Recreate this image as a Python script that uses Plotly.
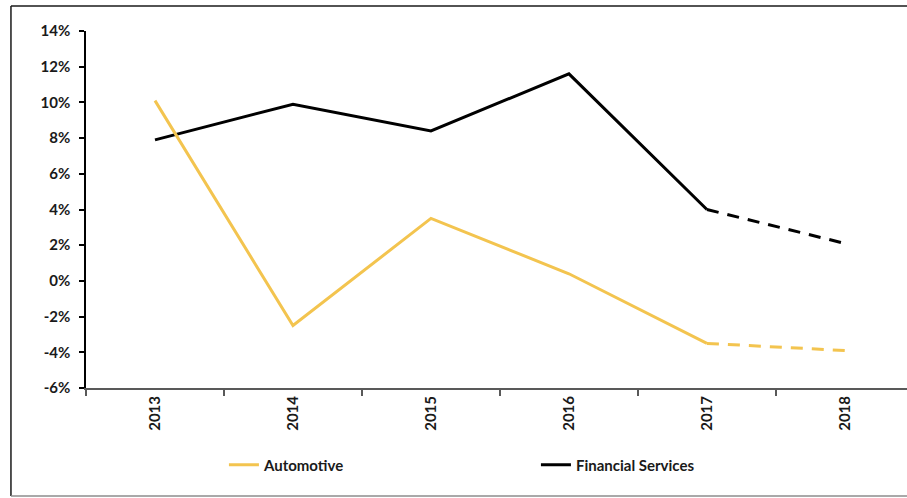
import plotly.graph_objects as go

# Annual growth rates (%) by sector; 2018 is a forecast
years = ["2013", "2014", "2015", "2016", "2017", "2018"]
automotive = [10.1, -2.5, 3.5, 0.4, -3.5, -3.9]
financial_services = [7.9, 9.9, 8.4, 11.6, 4.0, 2.1]

y_tick_values = [-6, -4, -2, 0, 2, 4, 6, 8, 10, 12, 14]
y_tick_labels = [f"{v}%" for v in y_tick_values]

AUTO_COLOR = "#F3C44F"
FIN_COLOR = "#000000"
FONT = dict(family="Lato, Open Sans, sans-serif", size=15, color="#1a1a1a", weight="bold")

n_actual = 5  # last actual year index + 1; forecast segment starts at the last actual point

fig = go.Figure()

# Solid lines for actual values
fig.add_trace(go.Scatter(
    x=years[:n_actual], y=financial_services[:n_actual], mode="lines",
    name="Financial Services", line=dict(color=FIN_COLOR, width=3), legendrank=2,
))
fig.add_trace(go.Scatter(
    x=years[:n_actual], y=automotive[:n_actual], mode="lines",
    name="Automotive", line=dict(color=AUTO_COLOR, width=3), legendrank=1,
))

# Dashed forecast segments
fig.add_trace(go.Scatter(
    x=years[n_actual - 1:], y=financial_services[n_actual - 1:], mode="lines",
    line=dict(color=FIN_COLOR, width=3, dash="12px,9px"), showlegend=False,
))
fig.add_trace(go.Scatter(
    x=years[n_actual - 1:], y=automotive[n_actual - 1:], mode="lines",
    line=dict(color=AUTO_COLOR, width=3, dash="12px,9px"), showlegend=False,
))

x_range = [-0.5, 5.45]
y_range = [-6, 14]

fig.update_layout(
    width=907, height=498,
    margin=dict(l=86, r=0, t=31, b=110),
    paper_bgcolor="white", plot_bgcolor="white",
    font=FONT,
    xaxis=dict(
        type="category", categoryorder="array", categoryarray=years,
        range=x_range, tickson="boundaries", ticks="outside", ticklen=6,
        tickcolor="#595959", tickwidth=1.5,
        showline=True, linecolor="#595959", linewidth=2,
        showgrid=False, zeroline=False, tickangle=-90, tickfont=FONT,
    ),
    xaxis2=dict(
        overlaying="x", anchor="y", range=x_range, type="linear",
        tickvals=[0.5, 1.5, 2.5, 3.5, 4.5], ticks="inside", ticklen=6,
        tickcolor="#595959", tickwidth=1.5,
        showticklabels=False, showgrid=False, zeroline=False, showline=False,
    ),
    yaxis=dict(
        range=y_range, tickvals=y_tick_values, ticktext=y_tick_labels,
        ticks="outside", ticklen=5, tickcolor="#000", tickwidth=1.5,
        showline=True, linecolor="#000", linewidth=1.5,
        showgrid=False, zeroline=False, tickfont=FONT, ticklabelstandoff=6,
    ),
    yaxis2=dict(
        overlaying="y", anchor="x", side="left", range=y_range,
        tickvals=y_tick_values, ticks="inside", ticklen=5,
        tickcolor="#000", tickwidth=1.5,
        showticklabels=False, showgrid=False, zeroline=False, showline=False,
    ),
    legend=dict(
        orientation="h", x=0.168, xanchor="left", y=-0.216, yanchor="middle",
        entrywidth=267, entrywidthmode="pixels", font=FONT,
        bgcolor="rgba(0,0,0,0)",
    ),
    showlegend=True,
)

# Outer chart frame
x_left, x_right = -0.0914, 1.02
y_top, y_bottom = 1.070, -0.3025
fig.add_shape(type="line", xref="paper", yref="paper", x0=x_left, x1=x_left,
              y0=y_bottom, y1=y_top, line=dict(color="#1a1a1a", width=1.5))
fig.add_shape(type="line", xref="paper", yref="paper", x0=x_left, x1=x_right,
              y0=y_top, y1=y_top, line=dict(color="#1a1a1a", width=1.5))
fig.add_shape(type="line", xref="paper", yref="paper", x0=x_left, x1=x_right,
              y0=y_bottom, y1=y_bottom, line=dict(color="#8c8c8c", width=1.5))

fig.write_html("out.html")
